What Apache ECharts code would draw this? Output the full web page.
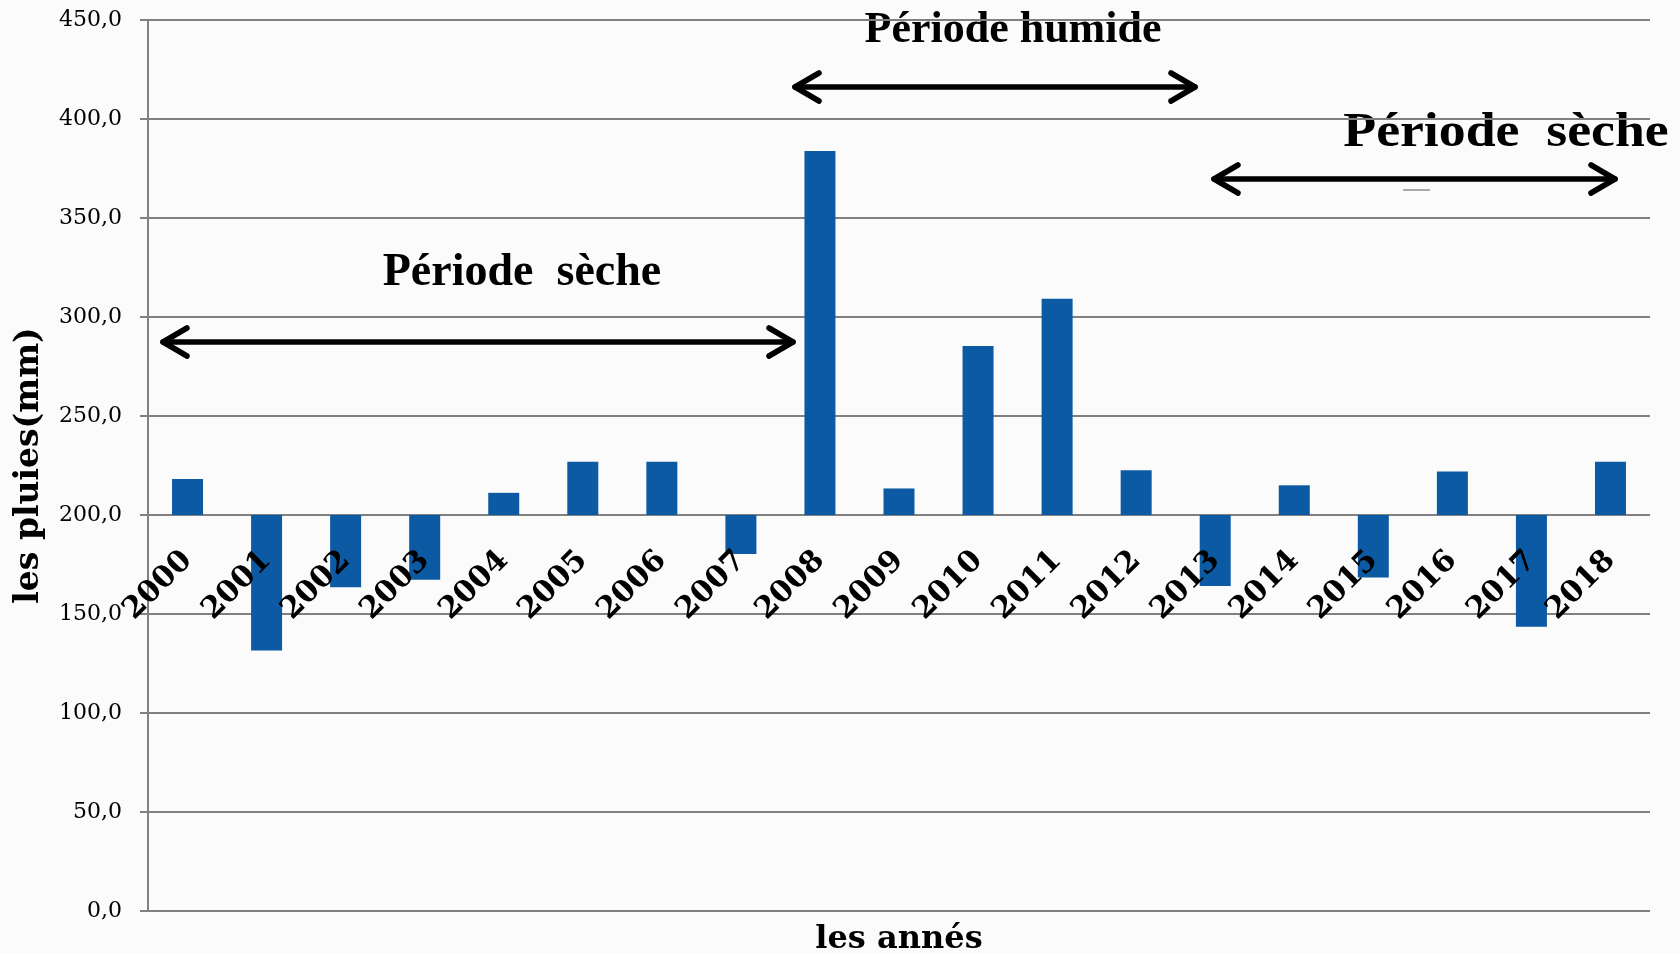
<!DOCTYPE html>
<html>
<head>
<meta charset="utf-8">
<script src="https://cdn.jsdelivr.net/npm/echarts@6/dist/echarts.min.js"></script>
<style>
  html, body { margin: 0; padding: 0; background: #fbfbfb; }
  #chart { width: 1680px; height: 954px; }
</style>
</head>
<body>
<div id="chart"></div>
<script>
// Annual rainfall (mm), bars drawn from the 200 mm reference line
const years = ['2000','2001','2002','2003','2004','2005','2006','2007','2008','2009',
               '2010','2011','2012','2013','2014','2015','2016','2017','2018'];
const rainfall = [218.2, 131.6, 163.5, 167.3, 211.2, 226.9, 226.9, 180.3, 383.9, 213.4,
                  285.4, 309.2, 222.6, 164.1, 215.0, 168.4, 222.0, 143.5, 226.9];
const referenceLevel = 200;
const yTicks = { min: 0, max: 450, interval: 50 };

// Stack an invisible base under the visible part so each bar spans reference <-> value
const baseData = rainfall.map(v => Math.min(v, referenceLevel));
const spanData = rainfall.map(v => Math.abs(v - referenceLevel));

const chart = echarts.init(document.getElementById('chart'), null, { renderer: 'canvas' });

const gridLeft = 148, gridRight = 30, gridTop = 20, gridBottom = 43;
const refY = gridTop + (954 - gridTop - gridBottom) * (1 - (referenceLevel - yTicks.min) / (yTicks.max - yTicks.min));

function doubleArrow(x1, x2, y) {
  const hx = 24, hy = 14;
  const style = { stroke: '#000', lineWidth: 5.5, lineCap: 'round', lineJoin: 'round', fill: null };
  return {
    type: 'group',
    children: [
      { type: 'line', shape: { x1: x1, y1: y, x2: x2, y2: y }, style: style },
      { type: 'polyline', shape: { points: [[x1 + hx, y - hy], [x1, y], [x1 + hx, y + hy]] }, style: style },
      { type: 'polyline', shape: { points: [[x2 - hx, y - hy], [x2, y], [x2 - hx, y + hy]] }, style: style }
    ]
  };
}

const periodFont = { fontFamily: '"Liberation Serif", serif', fontWeight: 'bold', fontSize: 46, fill: '#000' };

chart.setOption({
  backgroundColor: '#fbfbfb',
  animation: false,
  grid: [
    { left: gridLeft, right: gridRight, top: gridTop, bottom: gridBottom, outerBoundsMode: 'none', containLabel: false },
    { left: gridLeft, right: gridRight, top: gridTop, height: refY - gridTop, outerBoundsMode: 'none', containLabel: false }
  ],
  xAxis: [
    {
      type: 'category', gridIndex: 0, data: years,
      name: 'les annés', nameLocation: 'middle', nameGap: 13,
      nameTextStyle: { fontFamily: '"DejaVu Serif", serif', fontWeight: 'bold', fontSize: 32, color: '#000', verticalAlign: 'top' },
      axisLine: { show: false }, axisTick: { show: false }, axisLabel: { show: false }
    },
    {
      type: 'category', gridIndex: 1, data: years, z: 10,
      axisLine: { show: false }, axisTick: { show: false },
      axisLabel: {
        interval: 0, rotate: 45, margin: 41,
        fontFamily: '"DejaVu Serif", serif', fontWeight: 'bold', fontSize: 30, color: '#000'
      }
    }
  ],
  yAxis: [
    {
      type: 'value', gridIndex: 0, min: yTicks.min, max: yTicks.max, interval: yTicks.interval,
      name: 'les pluies(mm)', nameLocation: 'middle', nameGap: 102,
      nameTextStyle: { fontFamily: '"DejaVu Serif", serif', fontWeight: 'bold', fontSize: 33, color: '#000' },
      axisLine: { show: true, lineStyle: { color: '#808080', width: 2 } },
      axisTick: { show: true, length: 8, lineStyle: { color: '#808080', width: 2 } },
      splitLine: { show: true, lineStyle: { color: '#808080', width: 2 } },
      axisLabel: {
        margin: 26, fontFamily: '"DejaVu Serif", serif', fontSize: 22, color: '#000',
        formatter: v => v.toFixed(1).replace('.', ',')
      }
    },
    { type: 'value', gridIndex: 1, show: false, min: 0, max: 1 }
  ],
  series: [
    {
      type: 'bar', xAxisIndex: 0, yAxisIndex: 0, stack: 'rain', data: baseData,
      barWidth: 31, itemStyle: { color: 'rgba(0,0,0,0)' }, silent: true
    },
    {
      type: 'bar', xAxisIndex: 0, yAxisIndex: 0, stack: 'rain', data: spanData,
      barWidth: 31, itemStyle: { color: '#0c59a4' }
    }
  ],
  graphic: [
    { type: 'text', x: 522, y: 273, style: Object.assign({ text: 'Période  sèche', textAlign: 'center', textVerticalAlign: 'middle' }, periodFont) },
    doubleArrow(163, 793, 342),
    { type: 'text', x: 1013, y: 31, style: Object.assign({ text: 'Période humide', textAlign: 'center', textVerticalAlign: 'middle' }, periodFont, { fontSize: 44 }) },
    doubleArrow(795, 1195, 87),
    { type: 'text', x: 1506, y: 134, scaleX: 1.12, style: Object.assign({ text: 'Période  sèche', textAlign: 'center', textVerticalAlign: 'middle' }, periodFont, { fontSize: 48 }) },
    doubleArrow(1214, 1615, 179),
    { type: 'line', shape: { x1: 1403, y1: 190, x2: 1430, y2: 190 }, style: { stroke: '#555', lineWidth: 1 } }
  ]
});
</script>
</body>
</html>
